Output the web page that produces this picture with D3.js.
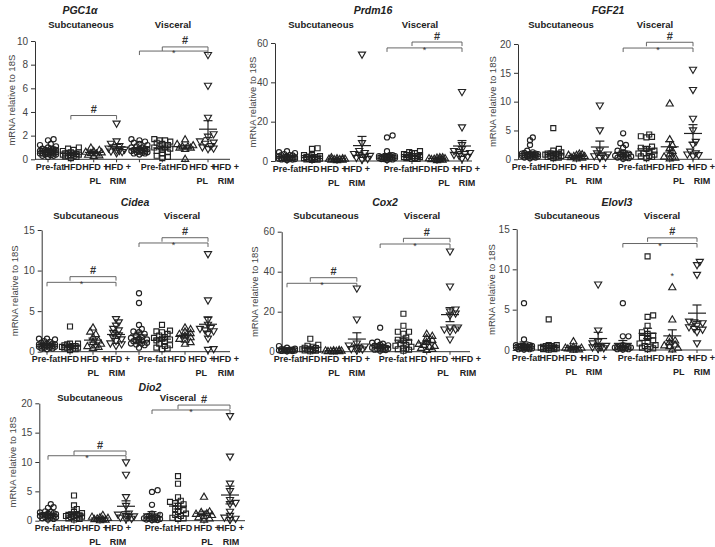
<!DOCTYPE html>
<html><head><meta charset="utf-8">
<script src="https://cdn.jsdelivr.net/npm/d3@7"></script>
<style>body{margin:0;background:#fff}svg{display:block}text{font-family:"Liberation Sans",Arial,sans-serif}</style>
</head><body><svg id="c" width="715" height="547"></svg>
<script>
// ---------- DATA ----------
const categories = ["Pre-fat", "HFD", "HFD +|PL", "HFD +|RIM"];
const tissues = ["Subcutaneous", "Visceral"];
const yAxisLabel = "mRNA relative to 18S";
const genes = ["PGC1α", "Prdm16", "FGF21", "Cidea", "Cox2", "Elovl3", "Dio2"];
const yTicks = [[0,2,4,6,8,10],[0,20,40,60],[0,5,10,15,20],[0,5,10,15],[0,20,40,60],[0,5,10,15],[0,5,10,15,20]];

const pgc1aSub = [
  [0.2,0.3,0.3,0.4,0.4,0.45,0.5,0.5,0.55,0.6,0.6,0.65,0.7,0.7,0.75,0.8,0.8,0.85,0.9,0.9,1.0,1.1,1.2,1.3,1.6,1.7,0.5,0.6,0.35,0.7],
  [0.1,0.2,0.25,0.3,0.3,0.35,0.4,0.4,0.45,0.5,0.5,0.55,0.6,0.6,0.7,0.8,0.9,1.0],
  [0.3,0.35,0.4,0.5,0.55,0.6,0.65,0.7,0.8,1.0],
  [0.5,0.6,0.65,0.7,0.75,0.8,0.9,1.0,1.1,1.3,1.5,3.0]];
const pgc1aVis = [
  [0.4,0.5,0.5,0.55,0.6,0.6,0.65,0.7,0.7,0.75,0.8,0.8,0.85,0.9,0.9,1.0,1.0,1.1,1.2,1.3,1.4,1.5,1.6,1.7],
  [0.1,0.2,0.3,0.5,0.6,0.7,0.8,0.9,1.0,1.0,1.1,1.2,1.3,1.4,1.5,1.6,1.6,1.7],
  [0.05,0.9,1.0,1.0,1.1,1.1,1.2,1.3,1.7],
  [0.85,0.9,1.0,1.1,1.3,1.4,1.5,1.9,2.1,3.5,6.2,8.8]];
const prdm16Sub = [
  [0.5,0.8,1,1,1.2,1.5,1.5,1.8,2,2,2.2,2.5,3,3,3.5,4,4.5,5,1,0.7,1.3,2.8],
  [0.5,0.8,1,1.2,1.5,1.5,2,2,2.5,3,3,6.5,6.2,1,1.8,0.7,2.2],
  [0.5,0.8,1,1,1.2,1.5,2,1.5,0.8,1.2],
  [0.5,1,1.5,2,2.5,3,3.5,4,5,9,54]];
const prdm16Vis = [
  [0.5,1,1,1.5,1.5,2,2,2.5,2.5,3,3,12,13,5,1.5,2,1,0.8,2.2,1.8],
  [1,1.5,2,2,2.5,3,3,3.5,4,4,4.5,5,1,2,2.5,3,1.5,2.5],
  [0.5,1,1,1.5,1.5,2,2,1.2,0.8,1.8],
  [1,2,3,3.5,4,5,6,8,17,35,2.5,4.5]];
const fgf21Sub = [
  [0.2,0.3,0.5,0.5,0.6,0.7,0.8,0.9,1,1,1.1,1.2,0.4,0.6,0.8,2.5,3.3,3.8,0.3,0.7,0.9,1.5],
  [0.2,0.3,0.5,0.6,0.7,0.8,0.9,1,1,1.2,1.5,1.8,5.4,0.4,0.6,0.8],
  [0.2,0.3,0.5,0.6,0.8,0.8,1,0.4,0.6,0.9],
  [0.2,0.3,0.5,0.8,1,1.5,5,9.3,0.6]];
const fgf21Vis = [
  [0.1,0.2,0.3,0.4,0.5,0.6,0.8,1,1.2,1.5,2,2.5,2.8,4.5,0.3,0.6,0.9],
  [0.2,0.5,0.8,1,1.2,1.5,1.8,2,3.8,3.9,4,4.3,0.6,1,0.4,2.2],
  [0.2,0.5,0.5,1,1.5,2,2.5,3.5,9.7,0.3],
  [0.5,0.7,1,1.3,2.5,3,5,7,12,15.5,0.8]];
const cideaSub = [
  [0.3,0.4,0.5,0.6,0.6,0.7,0.7,0.8,0.8,0.9,1,1,1.1,1.2,1.3,1.5,1.6,1.6,0.5,0.9,0.4,0.7],
  [0.2,0.3,0.4,0.5,0.5,0.6,0.6,0.7,0.8,0.9,1,1,3.1,0.4,0.7],
  [0.5,0.6,0.8,1,1.2,1.4,1.8,2.2,2.5,3,0.7],
  [0.7,0.9,1,1.3,1.7,2,2.3,2.8,3.2,3.6,4,1.5,2.6]];
const cideaVis = [
  [0.5,0.8,1,1.1,1.2,1.3,1.4,1.5,1.6,1.8,2,2.2,2.5,2.8,3.3,6,7.2,1,1.3,0.9,1.7,2.4],
  [0.3,0.5,0.7,1,1.2,1.4,1.6,1.8,2,2.2,2.5,2.6,3.3,0.4,1.5,1.7,2.4,0.8],
  [1,1.2,1.5,1.8,2,2.3,2.5,2.8,3,1.6,2.2],
  [0.2,0.3,1.6,2.2,2.5,2.6,2.9,3.3,3.9,6.3,12,2.8]];
const cox2Sub = [
  [0.2,0.3,0.5,0.5,0.8,1,1,1.2,1.5,2,2.8,0.4,0.7,1.3,0.6],
  [0.2,0.5,0.8,1,1,1.5,2,2.5,3,3.5,6.5,1.2,0.6,1.8],
  [0.2,0.3,0.5,0.5,0.8,1,0.4,0.6,0.7],
  [0.5,1,1.5,2,3,4,16,31.5,1.2,2.5]];
const cox2Vis = [
  [0.5,1,1,1.5,2,2,2.5,3,3.5,4,4.5,5,12,0.8,1.8,2.8,3.2,1.2],
  [0.5,1,1.5,2,3,4,5,6,7,9,10,10,13,19,2.5,1.2,3.5,5.5],
  [1,1.5,2,3,3.5,4,5,6,7,8,9,2.5],
  [6,10,11,11,12,12,18,19,20,21,32.5,50]];
const elovl3Sub = [
  [0.05,0.1,0.2,0.2,0.3,0.3,0.4,0.5,0.5,0.6,0.6,0.4,0.3,1.3,5.8,0.2,0.1,0.5],
  [0.05,0.1,0.1,0.2,0.2,0.3,0.3,0.4,0.5,0.6,0.6,0.5,3.8,0.2,0.4],
  [0.05,0.1,0.2,0.2,0.3,0.3,0.4,1.1,0.2],
  [0.1,0.2,0.3,0.5,0.5,0.8,1,2.4,8.1,0.3]];
const elovl3Vis = [
  [0.05,0.1,0.2,0.3,0.3,0.4,0.5,0.5,0.6,1.7,1.7,5.8,0.2,0.4,0.3,0.1],
  [0.1,0.2,0.3,0.5,0.8,1,1.2,1.5,1.8,2,2.2,3,4.1,4.3,11.6,0.4,1.5,0.6],
  [0.1,0.3,0.5,0.7,1,1.5,3.8,7.8,1.2,0.6],
  [0.8,2.2,2.5,2.8,3,3.3,3.5,9.3,10.5,10.9,2.6,3.4]];
const dio2Sub = [
  [0.2,0.3,0.5,0.6,0.7,0.8,0.9,1,1,1.1,1.2,1.3,1.5,1.6,2.2,2.3,2.8,0.4,0.8,1.4,0.6],
  [0.2,0.4,0.5,0.6,0.7,0.8,0.9,1,1,1.1,1.3,1.5,2.0,2.6,4.3,0.3,0.8],
  [0.1,0.2,0.3,0.4,0.5,0.6,0.7,1.0,0.3],
  [0.2,0.3,0.5,0.7,0.8,1,1.2,2.5,4,7.8,9.9,0.6]];
const dio2Vis = [
  [0.1,0.1,0.2,0.2,0.3,0.4,0.5,0.6,0.8,1,1.2,2.7,4.9,5.2,0.3,0.5,0.7],
  [0.3,0.5,0.8,1,1.2,1.5,2,2.5,2.8,3.2,3.4,4,6.3,7.6,0.4,1.8,3],
  [0.2,0.4,0.6,0.8,1,1.2,1.5,1.6,4.1,1.3],
  [0.1,0.3,0.5,0.8,1.5,2.8,3,3.5,5,6.3,10.9,17.8]];

// significance marks: [tissue, fromCategory, toCategory, level (y value), symbol]
const pgc1aSig  = [[0,1,3,3.7,"#"],[1,0,3,9.15,"*"],[1,1,3,9.5,"#"]];
const prdm16Sig = [[1,0,3,57.5,"*"],[1,1,3,60.5,"#"]];
const fgf21Sig  = [[1,0,3,19.3,"*"],[1,1,3,20.3,"#"]];
const cideaSig  = [[0,0,3,8.55,"*"],[0,1,3,9.25,"#"],[1,0,3,13.4,"*"],[1,1,3,14.05,"#"]];
const cox2Sig   = [[0,0,3,34.2,"*"],[0,1,3,37,"#"],[1,0,3,53.85,"*"],[1,1,3,56.7,"#"]];
const elovl3Sig = [[1,0,3,13.2,"*"],[1,1,3,13.9,"#"],[1,2,2,9.4,"*"]];
const dio2Sig   = [[0,0,3,11.07,"*"],[0,1,3,11.87,"#"],[1,0,3,18.86,"*"],[1,1,3,19.7,"#"]];

const geneData = [[pgc1aSub,pgc1aVis],[prdm16Sub,prdm16Vis],[fgf21Sub,fgf21Vis],[cideaSub,cideaVis],[cox2Sub,cox2Vis],[elovl3Sub,elovl3Vis],[dio2Sub,dio2Vis]];
const geneSig = [pgc1aSig,prdm16Sig,fgf21Sig,cideaSig,cox2Sig,elovl3Sig,dio2Sig];

// ---------- LAYOUT ----------
const layout = [
  {ax:35,   d:[48,208],  ls:[50,118],  lv:[155,226], xEnd:230, yTop:41,    yBot:159.3, tx:80,  ty:10,    hy:24,    sx:81,  vx:173, ylx:12},
  {ax:275,  d:[287,462], ls:[287,357], lv:[398,467], xEnd:472, yTop:43,    yBot:161,   tx:373, ty:10,    hy:24,    sx:321, vx:420, ylx:253},
  {ax:518,  d:[530,693], ls:[526,594], lv:[632,702], xEnd:712, yTop:44,    yBot:159.3, tx:608, ty:10,    hy:24,    sx:561, vx:655, ylx:493},
  {ax:41.7, d:[47,208],  ls:[46,117],  lv:[152,226], xEnd:230, yTop:230,   yBot:351.7, tx:135, ty:201.7, hy:215.7, sx:86,  vx:182, ylx:15},
  {ax:281.7,d:[287,450], ls:[288,357], lv:[393,468], xEnd:470, yTop:231.7, yBot:351.7, tx:385, ty:201.7, hy:215.7, sx:326, vx:422, ylx:255},
  {ax:516.7,d:[524,697], ls:[526,594], lv:[632,702], xEnd:712, yTop:229,   yBot:350,   tx:617, ty:201.7, hy:215.7, sx:567, vx:662, ylx:492},
  {ax:39.3, d:[48,230],  ls:[49,118],  lv:[159,231], xEnd:245, yTop:403.3, yBot:520.7, tx:150, ty:386.7, hy:397.7, sx:90,  vx:178, ylx:13}
];

const svg = d3.select("#c");
svg.append("rect").attr("width",715).attr("height",547).attr("fill","#fff");
const ink = "#222";
const shapes = [
  {t:d3.symbolCircle, s:21, r:0},
  {t:d3.symbolSquare, s:25, r:0},
  {t:d3.symbolTriangle, s:22, r:0},
  {t:d3.symbolTriangle, s:22, r:180}];

function swarm(vals, y) {
  const pts = vals.map(v => ({v, py: y(v)})).sort((a,b) => b.py - a.py);
  const offs = [0, 2.8, -2.8, 5.6, -5.6, 8, -8];
  const placed = [];
  pts.forEach(p => {
    let best = 0, bestD = -1;
    for (const o of offs) {
      let md = Infinity;
      for (const q of placed) { const dd = Math.hypot(q.dx - o, q.py - p.py); if (dd < md) md = dd; }
      if (md >= 3.8) { best = o; bestD = md; break; }
      if (md > bestD + 0.3) { bestD = md; best = o; }
    }
    p.dx = best; placed.push(p);
  });
  return pts;
}

genes.forEach((gene, gi) => {
  const L = layout[gi];
  const ticks = yTicks[gi];
  const y = d3.scaleLinear().domain([0, ticks[ticks.length-1]]).range([L.yBot, L.yTop]);
  const keys = [];
  tissues.forEach((t,ti) => categories.forEach((c,ci) => keys.push(ti+"-"+ci)));
  const x = d3.scalePoint().domain(keys).range(L.d);
  const lxs = [d3.scalePoint().domain(categories).range(L.ls), d3.scalePoint().domain(categories).range(L.lv)];
  const g = svg.append("g");

  // y axis
  const yAxis = d3.axisLeft(y).tickValues(ticks).tickSize(4).tickPadding(3).tickSizeOuter(0);
  const ga = g.append("g").attr("transform", `translate(${L.ax},0)`).call(yAxis);
  ga.select(".domain").attr("stroke","#333").attr("stroke-width",1);
  ga.selectAll(".tick line").attr("stroke","#333");
  ga.selectAll(".tick text").attr("font-size",10).attr("fill","#444").attr("font-family","Liberation Sans, Arial, sans-serif");

  // x axis
  g.append("line").attr("x1",L.ax).attr("x2",L.xEnd).attr("y1",L.yBot).attr("y2",L.yBot).attr("stroke","#333").attr("stroke-width",1);
  g.selectAll(".xt").data(keys).enter().append("line")
    .attr("x1", d => x(d)).attr("x2", d => x(d)).attr("y1", L.yBot).attr("y2", L.yBot + 3).attr("stroke","#333");

  // category labels
  tissues.forEach((t,ti) => {
    categories.forEach(c => {
      const parts = c.split("|");
      parts.forEach((p,pi) => {
        g.append("text").attr("x", lxs[ti](c)).attr("y", L.yBot + 10.5 + pi*14)
          .attr("text-anchor","middle").attr("font-size",9).attr("font-weight","bold").attr("fill",ink).text(p);
      });
    });
  });

  // title and tissue headers
  g.append("text").attr("x",L.tx).attr("y",L.ty+3.8).attr("text-anchor","middle").attr("font-size",10.5)
    .attr("font-weight","bold").attr("font-style","italic").attr("fill",ink).text(gene);
  g.append("text").attr("x",L.sx).attr("y",L.hy+3.5).attr("text-anchor","middle").attr("font-size",9.5)
    .attr("font-weight","bold").attr("fill",ink).text(tissues[0]);
  g.append("text").attr("x",L.vx).attr("y",L.hy+3.5).attr("text-anchor","middle").attr("font-size",9.5)
    .attr("font-weight","bold").attr("fill",ink).text(tissues[1]);

  // y label
  const ym = (L.yTop + L.yBot)/2;
  g.append("text").attr("transform",`translate(${L.ylx},${ym}) rotate(-90)`).attr("text-anchor","middle")
    .attr("dy","0.35em").attr("font-size",9.5).attr("fill","#444").text(yAxisLabel);

  // points + mean/SEM
  geneData[gi].forEach((groupsArr, ti) => {
    groupsArr.forEach((vals, ci) => {
      const cx = x(ti+"-"+ci);
      const sh = shapes[ci];
      const sym = d3.symbol().type(sh.t).size(sh.s);
      const pts = swarm(vals, y);
      g.selectAll(null).data(pts).enter().append("path")
        .attr("d", sym())
        .attr("transform", p => `translate(${cx + p.dx},${p.py + (sh.r ? -0.6 : (ci===2?0.6:0))}) rotate(${sh.r})`)
        .attr("fill","none").attr("stroke",ink).attr("stroke-width",1.15);
      const m = d3.mean(vals);
      const sem = d3.deviation(vals) / Math.sqrt(vals.length);
      g.append("line").attr("x1",cx-9).attr("x2",cx+9).attr("y1",y(m)).attr("y2",y(m)).attr("stroke",ink).attr("stroke-width",1.2);
      g.append("line").attr("x1",cx).attr("x2",cx).attr("y1",y(m-sem)).attr("y2",y(m+sem)).attr("stroke",ink).attr("stroke-width",1.2);
      [m-sem, m+sem].forEach(v => g.append("line").attr("x1",cx-4.5).attr("x2",cx+4.5).attr("y1",y(v)).attr("y2",y(v)).attr("stroke",ink).attr("stroke-width",1.2));
    });
  });

  // significance brackets
  geneSig[gi].forEach(([ti, a, b, lev, sym]) => {
    const x1 = x(ti+"-"+a), x2 = x(ti+"-"+b), yy = y(lev);
    if (a !== b) {
      g.append("path").attr("d", `M${x1},${yy+4}V${yy}H${x2}V${yy+4}`).attr("fill","none").attr("stroke","#555").attr("stroke-width",0.9);
    }
    const isStar = sym === "*";
    g.append("text").attr("x",(x1+x2)/2).attr("y", isStar ? yy + 5 : yy - 2.5).attr("text-anchor","middle")
      .attr("font-size", isStar ? 9 : 11).attr("font-weight", isStar ? "normal" : "bold").attr("fill","#333").text(sym);
  });
});
</script></body></html>
